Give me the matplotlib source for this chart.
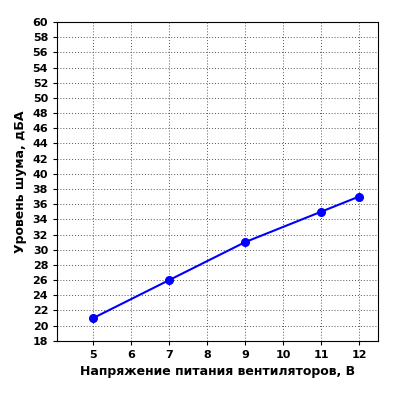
import matplotlib
matplotlib.use("Agg")
import matplotlib.pyplot as plt

voltage = [5, 7, 9, 11, 12]
noise = [21, 26, 31, 35, 37]
xticks = [5, 6, 7, 8, 9, 10, 11, 12]
yticks = list(range(18, 61, 2))

fig = plt.figure(figsize=(4, 4), dpi=100)
ax = fig.add_axes([0.143, 0.148, 0.802, 0.797])
ax.plot(voltage, noise, color="#0000ff", lw=1.5, marker="o", ms=5.5)
ax.set_xlim(4.05, 12.5)
ax.set_ylim(18, 60)
ax.set_xticks(xticks)
ax.set_yticks(yticks)
ax.grid(True, color="#555555", linestyle=(0, (1, 2)), lw=0.7)
ax.tick_params(labelsize=8, length=3)
for lab in ax.get_xticklabels() + ax.get_yticklabels():
    lab.set_fontweight("bold")
ax.set_xlabel("Напряжение питания вентиляторов, В", fontsize=9, fontweight="bold")
ax.set_ylabel("Уровень шума, дБА", fontsize=9, fontweight="bold")
fig.savefig("out.png", dpi=100)
